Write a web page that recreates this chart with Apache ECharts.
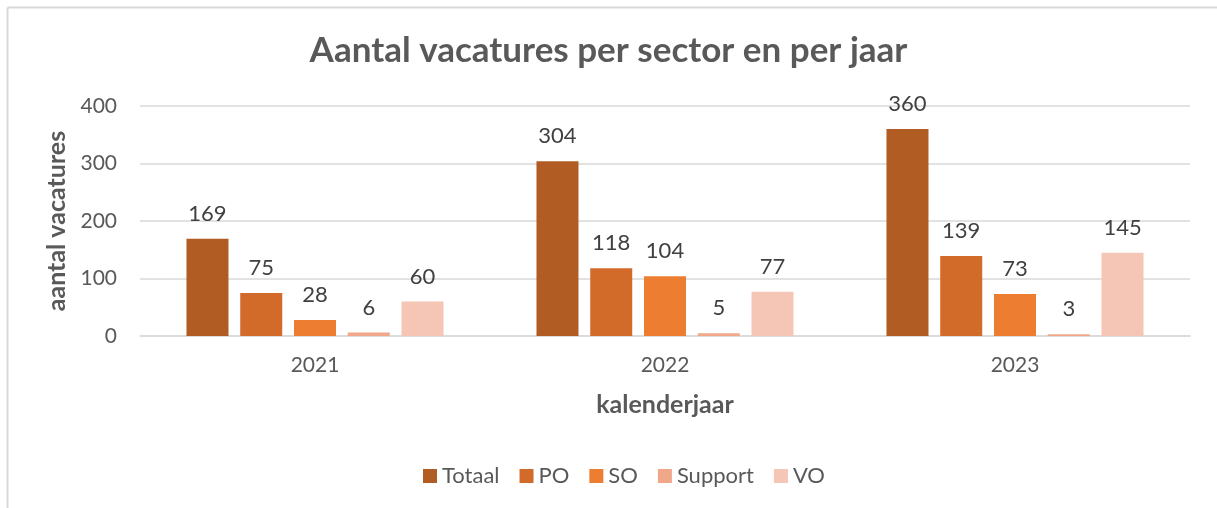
<!DOCTYPE html>
<html>
<head>
<meta charset="utf-8">
<script src="https://cdn.jsdelivr.net/npm/echarts@6/dist/echarts.min.js"></script>
<style>
  html,body{margin:0;padding:0;background:#fff;}
  #chart{width:1217px;height:508px;}
</style>
</head>
<body>
<div id="chart"></div>
<script>
// jaren en series
var jaren = ['2021', '2022', '2023'];
var totaal = [169, 304, 360];
var po = [75, 118, 139];
var so = [28, 104, 73];
var support = [6, 5, 3];
var vo = [60, 77, 145];
var yTicks = [0, 100, 200, 300, 400];

var kleuren = ['#B05C22', '#D26A2A', '#ED7D31', '#F1A88A', '#F5C6B6'];
var fontje = 'Lato, "Open Sans", sans-serif';

var chart = echarts.init(document.getElementById('chart'));

function maakSerie(naam, data, kleur) {
  return {
    name: naam,
    type: 'bar',
    data: data,
    barWidth: 42,
    barGap: '28%',
    itemStyle: {color: kleur},
    label: {
      show: true,
      position: 'top',
      distance: 14,
      fontSize: 22,
      fontFamily: fontje,
      color: '#404040'
    }
  };
}

var option = {
  animation: false,
  backgroundColor: '#fff',
  title: {
    text: 'Aantal vacatures per sector en per jaar',
    left: 'center',
    top: 28,
    textStyle: {fontSize: 35, fontWeight: 'bold', color: '#595959', fontFamily: fontje}
  },
  legend: {
    bottom: 16,
    left: 418,
    itemWidth: 14,
    itemHeight: 14,
    itemGap: 20,
    icon: 'rect',
    textStyle: {fontSize: 22, color: '#595959', fontFamily: fontje},
    data: ['Totaal', 'PO', 'SO', 'Support', 'VO']
  },
  grid: {left: 140, right: 27, top: 106, bottom: 172, containLabel: false},
  xAxis: {
    type: 'category',
    data: jaren,
    name: 'kalenderjaar',
    nameLocation: 'middle',
    nameGap: 56,
    nameTextStyle: {fontSize: 25, fontWeight: 'bold', color: '#595959', fontFamily: fontje},
    axisLine: {lineStyle: {color: '#d9d9d9', width: 1.5}},
    axisTick: {show: false},
    axisLabel: {fontSize: 21, color: '#595959', margin: 19, fontFamily: fontje},
  },
  yAxis: {
    type: 'value',
    min: yTicks[0],
    max: yTicks[yTicks.length - 1],
    interval: 100,
    name: 'aantal vacatures',
    nameLocation: 'middle',
    nameGap: 71,
    nameTextStyle: {fontSize: 25, fontWeight: 'bold', color: '#595959', fontFamily: fontje},
    axisLine: {show: false},
    axisTick: {show: false},
    axisLabel: {fontSize: 21, color: '#595959', margin: 23, fontFamily: fontje},
    splitLine: {lineStyle: {color: '#d9d9d9', width: 1.5}}
  },
  graphic: [
    {type: 'line', shape: {x1: 7.5, y1: 7.5, x2: 1217, y2: 7.5}, style: {stroke: '#d9d9d9', lineWidth: 2}},
    {type: 'line', shape: {x1: 7.5, y1: 7.5, x2: 7.5, y2: 508}, style: {stroke: '#d9d9d9', lineWidth: 2}}
  ],
  series: [
    maakSerie('Totaal', totaal, kleuren[0]),
    maakSerie('PO', po, kleuren[1]),
    maakSerie('SO', so, kleuren[2]),
    maakSerie('Support', support, kleuren[3]),
    maakSerie('VO', vo, kleuren[4])
  ]
};

chart.setOption(option);
</script>
</body>
</html>
